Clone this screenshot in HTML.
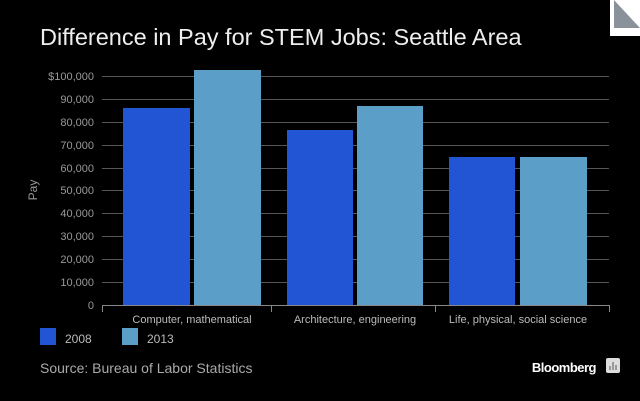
<!DOCTYPE html>
<html><head><style>
body{margin:0;background:#000;}
svg{display:block;font-family:"Liberation Sans",sans-serif;}
</style></head><body>
<svg width="640" height="401" viewBox="0 0 640 401">
<rect width="640" height="401" fill="#000"/>
<rect x="610" y="0" width="30" height="36" fill="#fff"/>
<polygon points="614,0 640,28 614,28" fill="#8a919b"/>
<text x="40" y="45" fill="#eee" font-size="23.5">Difference in Pay for STEM Jobs: Seattle Area</text>
<g stroke="#555" stroke-width="1">
<line x1="102" x2="609" y1="76.5" y2="76.5"/>
<line x1="102" x2="609" y1="99.5" y2="99.5"/>
<line x1="102" x2="609" y1="122.5" y2="122.5"/>
<line x1="102" x2="609" y1="145.5" y2="145.5"/>
<line x1="102" x2="609" y1="168.5" y2="168.5"/>
<line x1="102" x2="609" y1="190.5" y2="190.5"/>
<line x1="102" x2="609" y1="213.5" y2="213.5"/>
<line x1="102" x2="609" y1="236.5" y2="236.5"/>
<line x1="102" x2="609" y1="259.5" y2="259.5"/>
<line x1="102" x2="609" y1="282.5" y2="282.5"/>
</g>
<g fill="#2255d4">
<rect x="123" y="108" width="67" height="197"/>
<rect x="287" y="130" width="66" height="175"/>
<rect x="449" y="157" width="66" height="148"/>
</g>
<g fill="#5b9ec8">
<rect x="194" y="70" width="67" height="235"/>
<rect x="357" y="106" width="66" height="199"/>
<rect x="520" y="157" width="67" height="148"/>
</g>
<g stroke="#888" stroke-width="1">
<line x1="102" x2="609" y1="305.5" y2="305.5"/>
<line x1="102.5" x2="102.5" y1="305" y2="312"/>
<line x1="271.5" x2="271.5" y1="305" y2="312"/>
<line x1="435.5" x2="435.5" y1="305" y2="312"/>
<line x1="609.5" x2="609.5" y1="305" y2="312"/>
</g>
<g fill="#999" font-size="11" text-anchor="end">
<text x="94" y="80">$100,000</text>
<text x="94" y="103">90,000</text>
<text x="94" y="126">80,000</text>
<text x="94" y="149">70,000</text>
<text x="94" y="172">60,000</text>
<text x="94" y="194">50,000</text>
<text x="94" y="217">40,000</text>
<text x="94" y="240">30,000</text>
<text x="94" y="263">20,000</text>
<text x="94" y="286">10,000</text>
<text x="94" y="309">0</text>
</g>
<text transform="translate(37,190) rotate(-90)" fill="#999" font-size="12" text-anchor="middle">Pay</text>
<g fill="#bbb" font-size="11" text-anchor="middle">
<text x="192" y="323">Computer, mathematical</text>
<text x="355" y="323">Architecture, engineering</text>
<text x="518" y="323">Life, physical, social science</text>
</g>
<rect x="40" y="328" width="16" height="17" fill="#2255d4"/>
<text x="65" y="343" fill="#bbb" font-size="12">2008</text>
<rect x="122" y="328" width="16" height="17" fill="#5b9ec8"/>
<text x="147" y="343" fill="#bbb" font-size="12">2013</text>
<text x="40" y="373" fill="#aaa" font-size="14">Source: Bureau of Labor Statistics</text>
<text x="596" y="372" fill="#fff" font-size="13" font-weight="bold" text-anchor="end" letter-spacing="-0.5">Bloomberg</text>
<rect x="606" y="358" width="14" height="15" rx="2" fill="#ddd"/>
<g stroke="#555" stroke-width="1"><line x1="610" x2="610" y1="366" y2="370"/><line x1="613" x2="613" y1="362" y2="370"/><line x1="616" x2="616" y1="365" y2="370"/></g>
</svg>
</body></html>
